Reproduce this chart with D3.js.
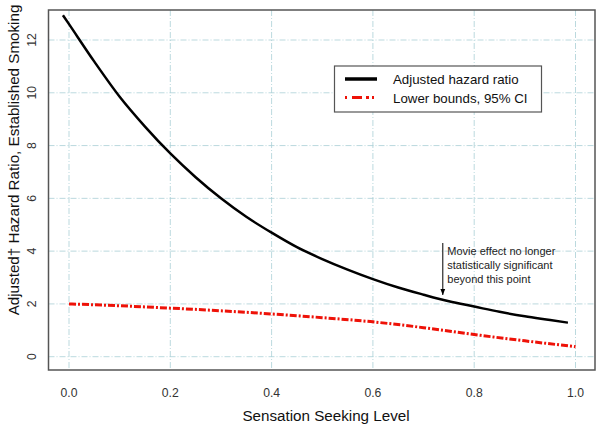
<!DOCTYPE html>
<html>
<head>
<meta charset="utf-8">
<script src="https://cdn.jsdelivr.net/npm/d3@7"></script>
<style>
    body { margin: 0; background: #fff; }
    text { font-family: "Liberation Sans", Arial, sans-serif; }
</style>
</head>
<body>
<div id="chart"></div>
<script>
// values
const hazardX = [-0.012, 0.0, 0.05, 0.1, 0.15, 0.2, 0.25, 0.3, 0.35, 0.4, 0.45, 0.5,
    0.55, 0.6, 0.65, 0.7, 0.75, 0.8, 0.85, 0.9, 0.95, 0.985];
const hazardY = [12.94, 12.6, 11.18, 9.85, 8.72, 7.7, 6.8, 6.0, 5.3, 4.7, 4.15, 3.7,
    3.3, 2.94, 2.62, 2.35, 2.1, 1.9, 1.7, 1.53, 1.39, 1.29];
const lowerX = [0.0, 0.1, 0.2, 0.3, 0.4, 0.5, 0.6, 0.7, 0.8, 0.9, 1.0];
const lowerY = [2.0, 1.93, 1.84, 1.74, 1.62, 1.48, 1.32, 1.1, 0.84, 0.6, 0.38];
const xTicks = [0, 0.2, 0.4, 0.6, 0.8, 1.0];
const yTicks = [0, 2, 4, 6, 8, 10, 12];
const legendLabels = ["Adjusted hazard ratio", "Lower bounds, 95% CI"];
const noteLines = ["Movie effect no longer", "statistically significant", "beyond this point"];
const noteX = 0.738;

const svg = d3.select("#chart").append("svg")
    .attr("width", 602)
    .attr("height", 432);

const x = d3.scaleLinear()
    .domain([-0.0405, 1.0385])
    .range([48.5, 595]);

const y = d3.scaleLinear()
    .domain([-0.504, 13.137])
    .range([370, 10]);

const gridColor = "#a9cfd6";

// grid
svg.append("g").selectAll("line")
    .data(xTicks)
    .enter().append("line")
    .attr("x1", d => x(d)).attr("x2", d => x(d))
    .attr("y1", y.range()[1]).attr("y2", y.range()[0])
    .attr("stroke", gridColor)
    .attr("stroke-width", 0.8)
    .attr("stroke-dasharray", "6,2,1,2");

svg.append("g").selectAll("line")
    .data(yTicks)
    .enter().append("line")
    .attr("x1", x.range()[0]).attr("x2", x.range()[1])
    .attr("y1", d => y(d)).attr("y2", d => y(d))
    .attr("stroke", gridColor)
    .attr("stroke-width", 0.8)
    .attr("stroke-dasharray", "6,2,1,2");

// curves
const line = d3.line()
    .x(d => x(d[0]))
    .y(d => y(d[1]))
    .curve(d3.curveMonotoneX);

svg.append("path")
    .datum(hazardX.map((v, i) => [v, hazardY[i]]))
    .attr("fill", "none")
    .attr("stroke", "#000")
    .attr("stroke-width", 2.5)
    .attr("d", line);

svg.append("path")
    .datum(lowerX.map((v, i) => [v, lowerY[i]]))
    .attr("fill", "none")
    .attr("stroke", "#ee1208")
    .attr("stroke-width", 3)
    .attr("stroke-dasharray", "7,2,2,2")
    .attr("d", line);

// frame
svg.append("rect")
    .attr("x", x.range()[0])
    .attr("y", y.range()[1])
    .attr("width", x.range()[1] - x.range()[0])
    .attr("height", y.range()[0] - y.range()[1])
    .attr("fill", "none")
    .attr("stroke", "#555")
    .attr("stroke-width", 1.5);

// tick labels
svg.append("g").selectAll("text")
    .data(xTicks)
    .enter().append("text")
    .attr("x", d => x(d))
    .attr("y", 397)
    .attr("text-anchor", "middle")
    .attr("fill", "#333")
    .style("font-size", "12.2px")
    .text(d => d3.format(".1f")(d));

svg.append("g").selectAll("text")
    .data(yTicks)
    .enter().append("text")
    .attr("transform", d => `translate(35.5,${y(d)}) rotate(-90)`)
    .attr("text-anchor", "middle")
    .attr("fill", "#333")
    .style("font-size", "12.2px")
    .text(d => d);

// axis titles
svg.append("text")
    .attr("x", 326)
    .attr("y", 421)
    .attr("text-anchor", "middle")
    .attr("fill", "#111")
    .style("font-size", "15.2px")
    .text("Sensation Seeking Level");

svg.append("text")
    .attr("transform", "translate(19,160) rotate(-90)")
    .attr("text-anchor", "middle")
    .attr("fill", "#111")
    .style("font-size", "15.2px")
    .text("Adjusted\u2020 Hazard Ratio, Established Smoking");

// legend
const legend = svg.append("g");
legend.append("rect")
    .attr("x", 334.5).attr("y", 66)
    .attr("width", 207).attr("height", 46)
    .attr("fill", "#fff")
    .attr("stroke", "#555")
    .attr("stroke-width", 1.2);

legend.append("line")
    .attr("x1", 345).attr("x2", 377)
    .attr("y1", 79).attr("y2", 79)
    .attr("stroke", "#000").attr("stroke-width", 3.5);

legend.append("line")
    .attr("x1", 345).attr("x2", 377)
    .attr("y1", 97.5).attr("y2", 97.5)
    .attr("stroke", "#ee1208").attr("stroke-width", 3)
    .attr("stroke-dasharray", "2,5,10,4,3,3");

legend.selectAll(".lab")
    .data(legendLabels)
    .enter().append("text")
    .attr("class", "lab")
    .attr("x", 393)
    .attr("y", (d, i) => 84 + i * 19)
    .attr("fill", "#111")
    .style("font-size", "13.3px")
    .text(d => d);

// annotation
svg.append("defs").append("marker")
    .attr("id", "arrow")
    .attr("viewBox", "0 0 10 10")
    .attr("refX", 10).attr("refY", 5)
    .attr("markerWidth", 6).attr("markerHeight", 6)
    .attr("orient", "auto")
    .append("path")
    .attr("d", "M0,1L10,5L0,9Z")
    .attr("fill", "#000");

svg.append("line")
    .attr("x1", x(noteX)).attr("x2", x(noteX))
    .attr("y1", 243).attr("y2", 295)
    .attr("stroke", "#000")
    .attr("stroke-width", 1)
    .attr("marker-end", "url(#arrow)");

svg.selectAll(".note")
    .data(noteLines)
    .enter().append("text")
    .attr("class", "note")
    .attr("x", x(noteX) + 4.5)
    .attr("y", (d, i) => 254.5 + i * 14)
    .attr("fill", "#222")
    .style("font-size", "11px")
    .text(d => d);
</script>
</body>
</html>
